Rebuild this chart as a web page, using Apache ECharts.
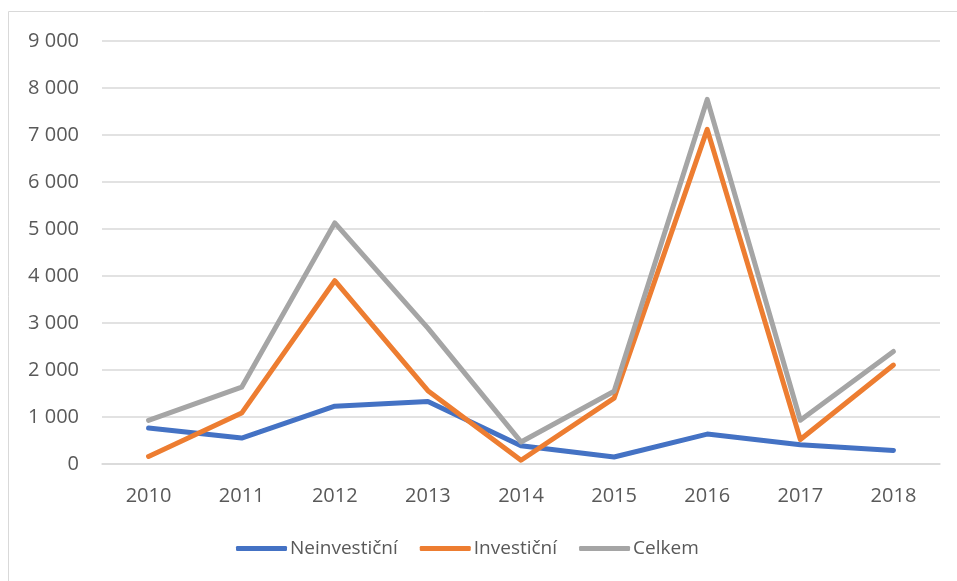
<!DOCTYPE html>
<html lang="cs" style="height: 100%">
<head>
    <meta charset="utf-8">
    <title>ECharts</title>
    <script src="https://cdn.jsdelivr.net/npm/echarts@6/dist/echarts.min.js"></script>
</head>
<body style="height: 100%; margin: 0; background: #fff">
<div id="main" style="width:957px;height:581px"></div>
<script type="text/javascript">
    // data
    var years = ['2010', '2011', '2012', '2013', '2014', '2015', '2016', '2017', '2018'];
    var neinvesticni = [765, 552, 1230, 1330, 389, 149, 637, 410, 289];
    var investicni = [161, 1083, 3900, 1560, 80, 1400, 7120, 520, 2105];
    var celkem = [926, 1635, 5130, 2890, 469, 1549, 7757, 930, 2394];

    var names = ['Neinvestiční', 'Investiční', 'Celkem'];
    var colors = ['#4472C4', '#ED7D31', '#A5A5A5'];
    var values = [neinvesticni, investicni, celkem];

    var font = '"Open Sans", "Liberation Sans", sans-serif';

    var series = [];
    for (var i = 0; i < names.length; i++) {
        series.push({
            name: names[i],
            type: 'line',
            data: values[i],
            symbol: 'none',
            color: colors[i],
            lineStyle: {width: 5, color: colors[i], cap: 'round', join: 'round'}
        });
    }

    var chart = echarts.init(document.getElementById('main'));
    var option = {
        animation: false,
        graphic: [{
            type: 'rect',
            shape: {x: 8.5, y: 11.5, width: 1000, height: 700},
            style: {fill: 'none', stroke: '#d9d9d9', lineWidth: 1},
            silent: true
        }],
        grid: {left: 102, right: 17, top: 41, bottom: 117},
        legend: {
            bottom: 18,
            left: 231,
            icon: 'roundRect',
            itemWidth: 51,
            itemHeight: 5,
            itemGap: 22,
            textStyle: {fontFamily: font, fontSize: 19, color: '#595959', padding: [0, 0, 0, -2]},
            data: names
        },
        xAxis: {
            type: 'category',
            data: years,
            boundaryGap: true,
            axisLine: {lineStyle: {color: '#d9d9d9', width: 1.5}},
            axisTick: {show: false},
            axisLabel: {fontFamily: font, fontSize: 20, color: '#595959', margin: 22}
        },
        yAxis: {
            type: 'value',
            min: 0,
            max: 9000,
            interval: 1000,
            axisLine: {show: false},
            axisTick: {show: false},
            splitLine: {lineStyle: {color: '#d9d9d9', width: 1.5}},
            axisLabel: {
                fontFamily: font, fontSize: 20, color: '#595959', margin: 23,
                formatter: function (v) {
                    return String(v).replace(/\B(?=(\d{3})+(?!\d))/g, ' ');
                }
            }
        },
        series: series
    };
    chart.setOption(option);
</script>
</body>
</html>
